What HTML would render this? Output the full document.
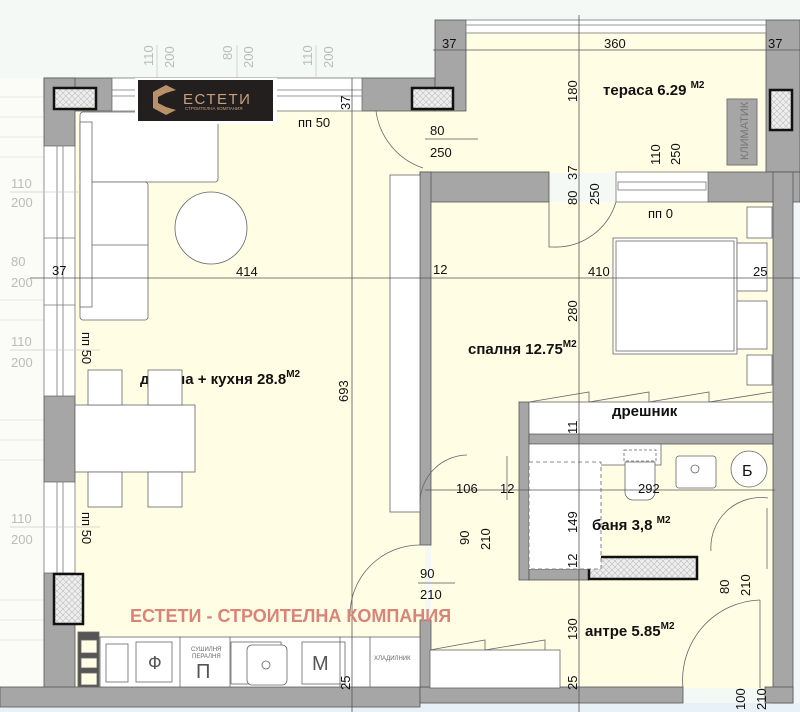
<!DOCTYPE html>
<html><head><meta charset="utf-8"><style>
html,body{margin:0;padding:0;background:#fff}
svg{display:block}
text{font-family:"Liberation Sans",sans-serif}
</style></head><body>
<svg width="800" height="712" viewBox="0 0 800 712" xmlns="http://www.w3.org/2000/svg">
<defs>
<pattern id="h" width="6" height="6" patternUnits="userSpaceOnUse"><rect width="6" height="6" fill="#eee"/><path d="M0 0L6 6M6 0L0 6" stroke="#bbb" stroke-width="0.6"/></pattern>
</defs>
<rect width="800" height="712" fill="#f4f9f6"/>
<rect x="0" y="78" width="44" height="610" fill="#fbfcf8"/>
<g stroke="#e4e8e4" stroke-width="1">
<line x1="0" y1="97" x2="44" y2="97"/><line x1="0" y1="117" x2="44" y2="117"/><line x1="0" y1="137" x2="44" y2="137"/><line x1="0" y1="157" x2="44" y2="157"/><line x1="0" y1="300" x2="44" y2="300"/><line x1="0" y1="320" x2="44" y2="320"/><line x1="0" y1="420" x2="44" y2="420"/><line x1="0" y1="440" x2="44" y2="440"/><line x1="0" y1="460" x2="44" y2="460"/><line x1="0" y1="600" x2="44" y2="600"/><line x1="0" y1="620" x2="44" y2="620"/><line x1="0" y1="640" x2="44" y2="640"/>
</g>
<rect x="0" y="703" width="800" height="9" fill="#e8f0f8"/>
<rect x="75" y="111" width="350" height="577" fill="#fffde4"/>
<rect x="420" y="100" width="50" height="80" fill="#fffde4"/>
<rect x="466" y="33" width="300" height="140" fill="#fffde4"/>
<rect x="431" y="202" width="342" height="486" fill="#fffde4"/>
<rect x="793" y="200" width="7" height="503" fill="#f2f6f8"/>
<g fill="#a6a6a6" stroke="#555" stroke-width="0.8">
<rect x="44" y="78" width="68" height="33"/>
<rect x="44" y="78" width="31" height="68"/>
<rect x="362" y="78" width="73" height="33"/>
<rect x="435" y="20" width="31" height="91"/>
<rect x="766" y="20" width="34" height="152"/>
<rect x="420" y="172" width="129" height="30"/>
<rect x="708" y="172" width="92" height="30"/>
<rect x="420" y="172" width="11" height="373"/>
<rect x="773" y="172" width="20" height="531"/>
<rect x="44" y="396" width="31" height="86"/>
<rect x="44" y="573" width="31" height="130"/>
<rect x="0" y="687" width="420" height="20"/>
<rect x="420" y="687" width="263" height="16"/>
<rect x="765" y="687" width="28" height="16"/>
<rect x="519" y="402" width="10" height="178"/>
<rect x="529" y="434" width="244" height="10"/>
<rect x="529" y="569" width="60" height="11"/>
<rect x="420" y="620" width="11" height="67"/>
</g>
<g fill="#fff" stroke="#777" stroke-width="0.8">
<rect x="112" y="78" width="250" height="33"/>
<line x1="112" y1="90" x2="362" y2="90"/><line x1="112" y1="96" x2="362" y2="96"/>
<rect x="466" y="20" width="300" height="13"/>
<line x1="466" y1="25" x2="766" y2="25"/>
<rect x="616" y="172" width="92" height="30"/>
<rect x="618" y="182" width="88" height="8"/>
<rect x="44" y="146" width="31" height="250"/>
<line x1="57" y1="146" x2="57" y2="396"/><line x1="63" y1="146" x2="63" y2="396"/>
<line x1="44" y1="238" x2="75" y2="238"/><line x1="44" y1="305" x2="75" y2="305"/>
<rect x="44" y="482" width="31" height="91"/>
<line x1="57" y1="482" x2="57" y2="573"/><line x1="63" y1="482" x2="63" y2="573"/>
</g>
<g fill="url(#h)" stroke="#111" stroke-width="2.5">
<rect x="54" y="88" width="42" height="21"/>
<rect x="412" y="88" width="41" height="21"/>
<rect x="770" y="90" width="22" height="40"/>
<rect x="54" y="574" width="29" height="50"/>
<rect x="589" y="557" width="108" height="22"/>
</g>
<rect x="727" y="99" width="30" height="66" fill="#a6a6a6" stroke="#777"/>
<text transform="translate(748,160) rotate(-90)" font-size="11" fill="#777">КЛИМАТИК</text>
<g font-size="15" font-weight="bold" fill="#111">
<text x="140" y="384">дневна + кухня 28.8<tspan font-size="10" dy="-7">M2</tspan></text>
</g>
<g fill="#fff" stroke="#666" stroke-width="0.8">
<rect x="80" y="112" width="138" height="70" rx="3"/>
<rect x="80" y="182" width="68" height="138" rx="3"/>
<rect x="80" y="122" width="12" height="185"/>
<line x1="92" y1="245" x2="148" y2="245"/>
<circle cx="211" cy="228" r="36"/>
<rect x="75" y="405" width="120" height="67"/>
<rect x="88" y="370" width="34" height="35"/><rect x="148" y="370" width="34" height="35"/>
<rect x="88" y="472" width="34" height="35"/><rect x="148" y="472" width="34" height="35"/>
<rect x="390" y="175" width="30" height="337"/>
<rect x="613" y="238" width="124" height="116"/>
<rect x="616" y="241" width="118" height="110"/>
<rect x="737" y="243" width="30" height="48"/><rect x="737" y="301" width="30" height="48"/>
<rect x="747" y="207" width="25" height="31"/><rect x="747" y="355" width="25" height="30"/>
<rect x="529" y="402" width="244" height="32"/>
<rect x="529" y="444" width="132" height="21"/>
<rect x="529" y="462" width="72" height="107" stroke-dasharray="4 3"/>
<rect x="624" y="450" width="32" height="11" stroke-dasharray="3 2"/>
<path d="M625 462h30v30a8 8 0 0 1-8 8h-14a8 8 0 0 1-8-8z"/>
<rect x="676" y="456" width="40" height="32" rx="3"/>
<circle cx="695" cy="469" r="4"/>
<circle cx="749" cy="469" r="18"/>
<rect x="430" y="650" width="130" height="38"/>
<rect x="100" y="637" width="320" height="50"/>
<rect x="78" y="632" width="21" height="55" fill="#555"/>
<rect x="81" y="640" width="16" height="13" fill="#fffde4"/><rect x="81" y="658" width="16" height="10" fill="#fffde4"/><rect x="81" y="673" width="16" height="12" fill="#fffde4"/>
<rect x="106" y="644" width="22" height="38"/>
<rect x="136" y="642" width="36" height="40"/>
<rect x="231" y="642" width="50" height="42"/>
<rect x="247" y="645" width="40" height="40" rx="5"/>
<circle cx="266" cy="665" r="4"/>
<rect x="302" y="642" width="43" height="42"/>
</g>
<g stroke="#666" fill="none" stroke-width="0.8">
<line x1="180" y1="637" x2="180" y2="687"/><line x1="230" y1="637" x2="230" y2="687"/><line x1="340" y1="637" x2="340" y2="687"/><line x1="370" y1="637" x2="370" y2="687"/>
<path d="M529 402l60-10 0 10 60-10 0 10 60-10 0 10 63-10"/>
<path d="M430 650l55-10 0 10 60-10 0 10"/>
<path d="M376 111a70 70 0 0 0 47 57"/>
<path d="M549 202v45h4M553 247a63 63 0 0 0 63-45"/>
<path d="M467 455a48 48 0 0 0 -47 48"/><line x1="507" y1="456" x2="507" y2="500"/>
<path d="M420 545a70 70 0 0 0 -70 70"/>
<path d="M768 498a50 50 0 0 0 -57 53"/><line x1="767" y1="508" x2="767" y2="569"/>
<path d="M760 600a80 80 0 0 0 -77 88"/><line x1="760" y1="600" x2="760" y2="688"/>
</g>
<g stroke="#555" stroke-width="0.8">
<line x1="30" y1="278" x2="800" y2="278"/>
<line x1="352" y1="78" x2="352" y2="712"/>
<line x1="579" y1="15" x2="579" y2="712"/>
<line x1="425" y1="490" x2="775" y2="490"/>
<line x1="433" y1="50" x2="800" y2="50"/>
</g>
<g stroke="#ccc" stroke-width="0.8">
<line x1="157" y1="45" x2="157" y2="78"/><line x1="237" y1="45" x2="237" y2="78"/><line x1="316" y1="45" x2="316" y2="78"/>
<line x1="10" y1="192" x2="80" y2="192"/><line x1="10" y1="350" x2="100" y2="350"/><line x1="10" y1="527" x2="100" y2="527"/>
</g>
<g font-size="13" fill="#bbb">
<text transform="translate(153,66) rotate(-90)">110</text><text transform="translate(174,68) rotate(-90)">200</text>
<text transform="translate(232,60) rotate(-90)">80</text><text transform="translate(253,68) rotate(-90)">200</text>
<text transform="translate(312,66) rotate(-90)">110</text><text transform="translate(333,68) rotate(-90)">200</text>
<text x="11" y="188">110</text><text x="11" y="207">200</text>
<text x="11" y="266">80</text><text x="11" y="287">200</text>
<text x="11" y="346">110</text><text x="11" y="367">200</text>
<text x="11" y="523">110</text><text x="11" y="544">200</text>
</g>
<g font-size="13" fill="#111">
<text x="52" y="275">37</text><text x="236" y="276">414</text>
<text x="298" y="127">пп 50</text>
<text transform="translate(350,110) rotate(-90)">37</text>
<text x="442" y="48">37</text><text x="604" y="48">360</text><text x="768" y="48">37</text>
<text transform="translate(577,102) rotate(-90)">180</text>
<text x="430" y="135">80</text><text x="430" y="157">250</text>
<line x1="425" y1="139" x2="478" y2="139" stroke="#555" stroke-width="0.8"/>
<text transform="translate(660,165) rotate(-90)">110</text><text transform="translate(680,165) rotate(-90)">250</text>
<text transform="translate(577,180) rotate(-90)">37</text><text transform="translate(577,205) rotate(-90)">80</text><text transform="translate(599,205) rotate(-90)">250</text>
<text x="648" y="218">пп 0</text>
<text x="433" y="274">12</text><text x="588" y="276">410</text><text x="753" y="276">25</text>
<text transform="translate(577,322) rotate(-90)">280</text>
<text transform="translate(348,402) rotate(-90)">693</text>
<text transform="translate(82,332) rotate(90)">пп 50</text>
<text transform="translate(82,512) rotate(90)">пп 50</text>
<text transform="translate(577,434) rotate(-90)">11</text>
<text x="456" y="493">106</text><text x="500" y="493">12</text><text x="638" y="493">292</text>
<text transform="translate(577,533) rotate(-90)">149</text>
<text transform="translate(577,568) rotate(-90)">12</text>
<text transform="translate(469,545) rotate(-90)">90</text><text transform="translate(490,550) rotate(-90)">210</text>
<text x="420" y="578">90</text><text x="420" y="599">210</text>
<line x1="418" y1="583" x2="455" y2="583" stroke="#555" stroke-width="0.8"/>
<text transform="translate(577,640) rotate(-90)">130</text>
<text transform="translate(577,690) rotate(-90)">25</text>
<text transform="translate(350,690) rotate(-90)">25</text>
<text transform="translate(729,594) rotate(-90)">80</text><text transform="translate(750,596) rotate(-90)">210</text>
<text transform="translate(745,710) rotate(-90)">100</text><text transform="translate(766,710) rotate(-90)">210</text>
</g>
<g font-size="15" font-weight="bold" fill="#111">
<text x="603" y="95">тераса 6.29 <tspan font-size="10" dy="-7">M2</tspan></text>
<text x="468" y="354">спалня 12.75<tspan font-size="10" dy="-7">M2</tspan></text>
<text x="612" y="416">дрешник</text>
<text x="592" y="530">баня 3,8 <tspan font-size="10" dy="-7">M2</tspan></text>
<text x="585" y="636">антре 5.85<tspan font-size="10" dy="-7">M2</tspan></text>
</g>
<text x="742" y="476" font-size="16" fill="#111">Б</text>
<text x="148" y="669" font-size="18" fill="#555">Ф</text>
<text x="196" y="678" font-size="20" fill="#555">П</text>
<text x="191" y="651" font-size="6" fill="#666">СУШИЛНЯ</text><text x="192" y="658" font-size="6" fill="#666">ПЕРАЛНЯ</text>
<text x="312" y="670" font-size="20" fill="#555">М</text>
<text x="374" y="660" font-size="6" fill="#666">ХЛАДИЛНИК</text>
<text x="130" y="622" font-size="18" font-weight="bold" fill="#d98479">ЕСТЕТИ - СТРОИТЕЛНА КОМПАНИЯ</text>
<rect x="135" y="78" width="142" height="46" fill="#fff"/>
<rect x="138" y="80" width="135" height="41" fill="#231f1e"/>
<path d="M153 92l13-7 10 5-10 3-8 4v6l8 4 10 3-10 5-13-7z" fill="#b8906a"/>
<text x="183" y="104" font-size="15" fill="#c9a07c" letter-spacing="1.5">ЕСТЕТИ</text>
<text x="185" y="110" font-size="4.5" fill="#c9a07c">СТРОИТЕЛНА КОМПАНИЯ</text>
</svg>
</body></html>
